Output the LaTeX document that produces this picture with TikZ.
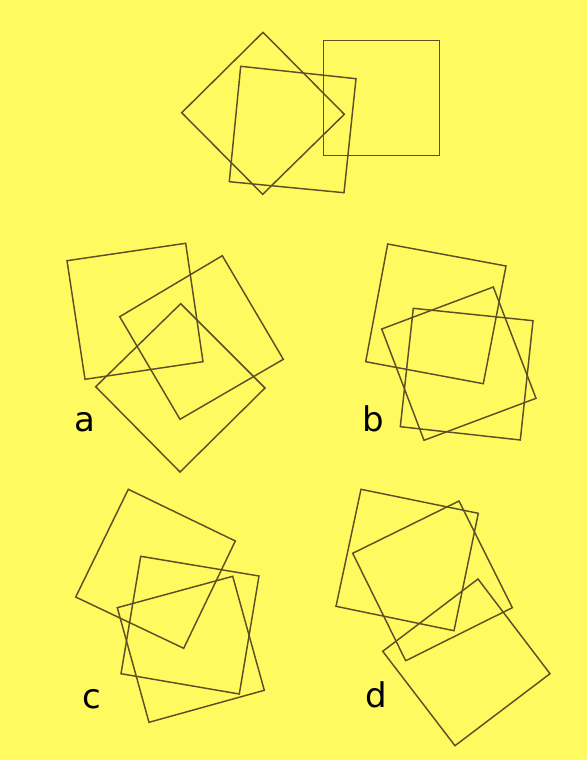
\documentclass[tikz,border=0pt]{standalone}
\usepackage{fontspec}
\newfontfamily\labelfont{DejaVu Sans}
\definecolor{bgyellow}{RGB}{255,250,95}
\definecolor{sqline}{RGB}{90,80,35}
\tikzset{
  sq/.style={draw=sqline, line width=1.45pt, line join=miter},
  lbl/.style={font=\labelfont\fontsize{34}{34}\selectfont, text=black, anchor=base, inner sep=0pt}
}
\begin{document}
\begin{tikzpicture}[x=1pt,y=-1pt]
\fill[bgyellow] (0,0) rectangle (587,760);
\useasboundingbox (0,0) rectangle (587,760);
% top
\draw[sq] (263,32.3) -- (344.3,114.3) -- (262.7,194.3) -- (181.7,112.7) -- cycle;
\draw[sq] (240.7,66.3) -- (356,78.7) -- (344,192.7) -- (229.3,181.7) -- cycle;
\draw[sq] (323.7,40.3) -- (439.3,40.3) -- (439.3,155.7) -- (323.7,155.7) -- cycle;
% a
\draw[sq] (67,260.7) -- (185.7,243.3) -- (203,361.7) -- (85,379.3) -- cycle;
\draw[sq] (119.7,316.7) -- (222.3,255.7) -- (283.3,359.3) -- (180,419.3) -- cycle;
\draw[sq] (180.7,303.7) -- (265,388) -- (180,472) -- (95.7,386.7) -- cycle;
\node[lbl] (la) at (85,431) {a};
% b
\draw[sq] (387.7,244) -- (506,266) -- (483.3,383.7) -- (365.7,361.7) -- cycle;
\draw[sq] (381.7,329) -- (493.3,287) -- (536,398.3) -- (424,440.3) -- cycle;
\draw[sq] (413.3,308.3) -- (533,320.7) -- (520.3,440) -- (400.3,426.7) -- cycle;
\node[lbl] (lb) at (373.3,431.7) {b};
% c
\draw[sq] (128.3,489.3) -- (235.3,541) -- (183.7,648.3) -- (75.7,597) -- cycle;
\draw[sq] (140.7,556.3) -- (259,576) -- (239.3,694) -- (121,673.7) -- cycle;
\draw[sq] (117.3,607.7) -- (232.7,576.3) -- (264.3,690.3) -- (149,722.3) -- cycle;
\node[lbl] (lc) at (91.7,708.3) {c};
% d
\draw[sq] (361,489.3) -- (478.3,513.3) -- (454,630.7) -- (336,606.3) -- cycle;
\draw[sq] (352.7,553.3) -- (459,501) -- (512.3,607.7) -- (405.7,660.7) -- cycle;
\draw[sq] (382.7,651.3) -- (478,579) -- (550,673.7) -- (455,745.7) -- cycle;
\node[lbl] (ld) at (375.8,707.7) {d};
\end{tikzpicture}
\end{document}
